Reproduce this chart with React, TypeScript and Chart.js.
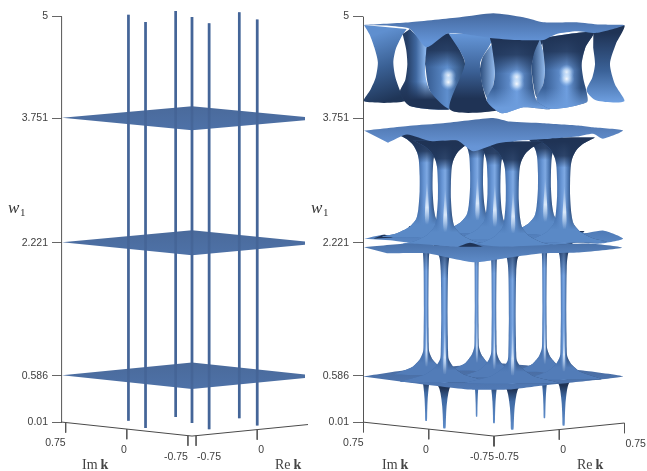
import React, { useEffect, useRef } from "react";
import { Chart, registerables } from "chart.js";

Chart.register(...registerables);

// ---------- data ----------
const yTickValues = [0.01, 0.586, 2.221, 3.751, 5];
const floorTicks = [0.75, 0, -0.75];
const planeLevels = [0.586, 2.221, 3.751];
// exceptional points in the complex k plane
const neckRe = [-0.3, -0.61, 0.225, -0.03, -0.28, 0.555, 0.25];
const neckIm = [0.48, -0.04, 0.425, -0.03, -0.49, -0.025, -0.55];
const lineBottom = 0.01;
const lineTop = 5;

// neck half widths (in Re-Im units) against w: middle band
const midW = [3.55, 3.47, 3.4, 3.31, 3.22, 3.02, 2.83, 2.61, 2.49, 2.39, 2.31, 2.27];
const midHalf = [0.36, 0.22, 0.15, 0.105, 0.085, 0.075, 0.075, 0.09, 0.115, 0.195, 0.345, 0.5];
const midStreakW = [2.95, 2.8, 2.65, 2.52, 2.42];
const midStreakHalf = [0.004, 0.012, 0.02, 0.024, 0.012];
// lower band
const lowW = [2.4, 2.29, 2.2, 2.11, 1.95, 1.38, 1.14, 0.96, 0.86, 0.77, 0.67, 0.625, 0.58];
const lowHalf = [0.2, 0.1, 0.07, 0.04, 0.03, 0.026, 0.028, 0.03, 0.035, 0.07, 0.16, 0.26, 0.36];
const lowScale = [1, 1.4, 0.8, 1, 1.5, 0.9, 1.2];
const lowStreakW = [1.3, 1.1, 0.95, 0.8, 0.68];
const lowStreakHalf = [0.003, 0.006, 0.008, 0.012, 0.01];
// stubs under the lowest sheet
const stubW = [0.55, 0.5, 0.44, 0.36, 0.28, 0.18, 0.1, 0.01];
const stubHalf = [0.06, 0.042, 0.032, 0.024, 0.018, 0.014, 0.012, 0.009];

// sheet outlines as [Re-Im, w]
const sheetLow = [[-1.506, 0.576], [-1.046, 0.65], [0.011, 0.74], [0.264, 0.724], [1.023, 0.65], [1.483, 0.576], [0.563, 0.465], [0.184, 0.416], [-0.276, 0.416], [-0.966, 0.5]];
const sheetMidLow = [[-1.494, 2.27], [-1.276, 2.32], [-1.161, 2.3], [-0.85, 2.33], [-0.01, 2.395], [0.954, 2.32], [1.253, 2.37], [1.483, 2.27], [1.218, 2.21], [0.954, 2.22], [0.069, 2.12], [-0.885, 2.21], [-1.195, 2.25]];
const sheetLowTop = [[-1.494, 2.165], [-0.966, 2.21], [-0.414, 2.17], [-0.276, 2.21], [0.069, 2.17], [1.069, 2.21], [1.471, 2.16], [0.954, 2.1], [0.563, 2.09], [0.184, 2.04], [-0.241, 1.98], [-0.77, 2.09], [-1.23, 2.09]];
const sheetMidTop = [[-1.494, 3.6], [-0.966, 3.66], [-0.586, 3.69], [-0.011, 3.755], [0.184, 3.71], [0.563, 3.69], [0.989, 3.66], [1.138, 3.64], [1.483, 3.6], [1.253, 3.5], [1.138, 3.56], [0.954, 3.525], [0.644, 3.5], [0.333, 3.48], [0.034, 3.44], [-0.241, 3.345], [-0.425, 3.48], [-0.736, 3.47], [-1.0, 3.55], [-1.218, 3.45]];
const bumpLeft = [[-1.39, 2.27], [-1.264, 2.32], [-1.161, 2.285]];
const bumpCentre = [[-0.414, 2.17], [-0.276, 2.22], [-0.126, 2.17]];

// upper band, as [Re-Im, w]
const upLeftNeck = [[-1.494, 4.898], [-1.43, 4.78], [-1.375, 4.62], [-1.335, 4.44], [-1.36, 4.25], [-1.42, 4.1], [-1.494, 3.959], [-1.023, 3.959], [-1.08, 4.09], [-1.135, 4.26], [-1.157, 4.439], [-1.13, 4.6], [-1.06, 4.76], [-1.004, 4.849]];
const upNeckA = [[-1.05, 4.787], [-1.01, 4.6], [-0.996, 4.418], [-1.02, 4.22], [-1.08, 4.07], [-0.966, 3.902], [-0.506, 3.865], [-0.736, 4.09], [-0.785, 4.25], [-0.793, 4.418], [-0.774, 4.623], [-0.966, 4.849]];
const upNeckB = [[-0.774, 4.623], [-0.525, 4.795], [-0.391, 4.58], [-0.333, 4.418], [-0.391, 4.09], [-0.506, 3.865], [-0.736, 4.09], [-0.793, 4.418]];
const upFold = [[-0.525, 4.795], [-0.027, 4.738], [-0.161, 4.418], [-0.084, 3.968], [0.03, 3.845], [-0.506, 3.857], [-0.333, 4.418], [-0.391, 4.58]];
const upLensE = [[-0.027, 4.664], [-0.13, 4.5], [-0.161, 4.336], [-0.125, 4.12], [-0.065, 3.976], [-0.01, 4.15], [0.011, 4.336], [-0.005, 4.52]];
const upNeckE = [[-0.046, 4.738], [0.567, 4.713], [0.47, 4.55], [0.433, 4.377], [0.45, 4.15], [0.49, 3.968], [0.644, 3.865], [0.337, 3.886], [0.088, 3.812], [-0.084, 3.968], [-0.01, 4.15], [0.011, 4.336], [-0.027, 4.664]];
const upLensG = [[0.529, 4.726], [0.46, 4.55], [0.433, 4.377], [0.45, 4.18], [0.49, 4.008], [0.565, 4.17], [0.586, 4.336], [0.57, 4.55]];
const upNeckG = [[0.548, 4.738], [1.142, 4.808], [1.05, 4.62], [1.008, 4.418], [1.03, 4.22], [1.065, 4.07], [1.065, 3.947], [0.663, 3.865], [0.49, 3.976], [0.565, 4.17], [0.586, 4.336], [0.57, 4.55]];
const upRightNeck = [[1.142, 4.808], [1.498, 4.894], [1.4, 4.66], [1.333, 4.418], [1.39, 4.17], [1.498, 3.959], [1.18, 3.968], [1.065, 4.09], [1.13, 4.25], [1.161, 4.418], [1.14, 4.62]];
const upTop = [[-1.494, 4.898], [-0.966, 4.931], [-0.391, 4.992], [-0.008, 5.041], [0.337, 4.992], [0.567, 4.931], [0.95, 4.931], [1.218, 4.902], [1.498, 4.894], [1.18, 4.8], [0.95, 4.82], [0.72, 4.787], [0.567, 4.713], [0.261, 4.713], [-0.046, 4.738], [-0.525, 4.795], [-0.774, 4.623], [-0.966, 4.849], [-1.23, 4.89]];
const upGlow = [[-0.525, 4.234], [0.261, 4.213], [0.835, 4.275]];

// ---------- helpers ----------
type K = number[];
const NAVY = "rgba(31,51,85,";
const project = (re: number, im: number, w: number, k: K, f = 1) => ({ x: re - im, y: w + (k[0] * re + k[1] * im) * f });
const toPts = (a: number[][]) => a.map(([x, y]) => ({ x, y }));

const lin = (u1: number, w1: number, u2: number, w2: number, stops: [number, string][]) => (c: any) => {
  const { x, y } = c.chart.scales;
  const c1 = [x.getPixelForValue(u1), y.getPixelForValue(w1), x.getPixelForValue(u2), y.getPixelForValue(w2)];
  if (!c1.every(Number.isFinite)) return "transparent"; // scales are not laid out yet on the reset pass
  const g = c.chart.ctx.createLinearGradient(c1[0], c1[1], c1[2], c1[3]);
  stops.forEach(([o, col]) => g.addColorStop(o, col));
  return g;
};
const poly = (data: any[], fill: any, tension = 0.25) => ({
  data, backgroundColor: fill, borderWidth: 0, fill: "shape", pointRadius: 0, tension, capBezierPoints: false, clip: false,
});
const stroke = (data: any[], color: string, width: number) => ({
  data, borderColor: color, borderWidth: width, fill: false, pointRadius: 0, tension: 0, clip: false, borderCapStyle: "butt",
});
const bodyStops: [number, string][] = [[0, "#3f6aa6"], [0.35, "#6795d4"], [0.55, "#7ea9e3"], [0.8, "#4a75b0"], [1, "#2b4873"]];

const neckShape = (u0: number, d: number, ws: number[], hs: number[], sc = 1, shift = 0) => {
  const left = ws.map((w, i) => ({ x: u0 + shift - hs[i] * sc, y: w + d }));
  const right = ws.map((w, i) => ({ x: u0 + shift + hs[i] * sc, y: w + d })).reverse();
  return [...left, ...right];
};
const glow = (data: any[], r: number) => ({
  data, showLine: false, pointRadius: r, pointBorderWidth: 0, clip: false,
  pointBackgroundColor: (c: any) => {
    if (!c.raw) return "transparent";
    const { x, y } = c.chart.scales;
    const px = x.getPixelForValue(c.raw.x), py = y.getPixelForValue(c.raw.y);
    if (!Number.isFinite(px) || !Number.isFinite(py)) return "transparent";
    const g = c.chart.ctx.createRadialGradient(px, py, 0, px, py, r);
    g.addColorStop(0, "rgba(255,255,255,0.95)");
    g.addColorStop(0.45, "rgba(215,235,255,0.6)");
    g.addColorStop(1, "rgba(140,185,240,0)");
    return g;
  },
});

const floorSets = (k: K, edge: number) => {
  const sets: any[] = [];
  sets.push(stroke([{ x: -2 * edge, y: 0.01 }, { x: -2 * edge, y: 5 }], "#555555", 1));
  sets.push(stroke([project(-edge, edge, 0.01, k), project(-edge, -edge, 0.01, k), project(edge, -edge, 0.01, k)], "#4a4a4a", 1));
  floorTicks.forEach((t) => {
    const a2 = project(-edge, t, 0.01, k);
    sets.push(stroke([a2, { x: a2.x, y: a2.y - 0.125 }], "#555555", 0.9));
    const b = project(t, -edge, 0.01, k);
    sets.push(stroke([b, { x: b.x, y: b.y - 0.125 }], "#555555", 0.9));
  });
  return sets;
};

// ---------- left panel ----------
const kLeft: K = [0.0995, 0.1075];
const edgeLeft = 0.8;
const leftSets = () => {
  const sets: any[] = floorSets(kLeft, edgeLeft);
  const lines = neckRe.map((re, i) => [project(re, neckIm[i], lineBottom, kLeft), project(re, neckIm[i], lineTop, kLeft)]);
  lines.forEach((l) => sets.push(stroke(l, "#4a6da2", 2.6)));
  planeLevels.forEach((w) => {
    const f = 1 - 0.03 * w;
    const e = edgeLeft;
    sets.push(poly([project(-e, e, w, kLeft, f), project(e, e, w, kLeft, f), project(e, -e, w, kLeft, f), project(-e, -e, w, kLeft, f)],
      lin(0, w + 0.15, 0, w - 0.17, [[0, "#4a6a9b"], [1, "#4e72a8"]]), 0));
  });
  lines.forEach((l) => sets.push(stroke(l, "rgba(62,92,140,0.45)", 2.6)));
  return sets;
};

// ---------- right panel ----------
const kRight: K = [0.107, 0.114];
const edgeRight = 0.75;
const rightSets = () => {
  const sets: any[] = floorSets(kRight, edgeRight);
  const order = [2, 5, 0, 3, 6, 1, 4]; // back to front
  const U = (i: number) => neckRe[i] - neckIm[i];
  const D = (i: number) => kRight[0] * neckRe[i] + kRight[1] * neckIm[i];

  // stubs under the lowest sheet
  order.forEach((i) => {
    const s = lowScale[i];
    sets.push(poly(neckShape(U(i), D(i), stubW, stubHalf, s), lin(0, 0.5 + D(i), 0, 0.01 + D(i), [[0, "#1f3355"], [0.3, "#3f6aa4"], [1, "#5d8bc8"]]), 0.2));
  });
  sets.push(poly(toPts(sheetLow), lin(0, 0.74, 0, 0.42, [[0, "#47699d"], [1, "#5079b5"]]), 0.15));

  // lower necks
  order.forEach((i) => {
    const u = U(i), d = D(i), s = lowScale[i];
    const shape = neckShape(u, d, lowW, lowHalf, s);
    const hw = 0.035 * s;
    sets.push(poly(shape, lin(u - hw, 0, u + hw, 0, bodyStops)));
    sets.push(poly(shape, lin(0, 2.35 + d, 0, 1.85 + d, [[0, NAVY + "1)"], [1, NAVY + "0)"]])));
    sets.push(poly(shape, lin(0, 0.88 + d, 0, 0.72 + d, [[0, "rgba(82,124,184,0)"], [1, "rgba(82,124,184,1)"]])));
    sets.push(poly(neckShape(u, d, lowStreakW, lowStreakHalf, s, 0.004), lin(0, 1.3 + d, 0, 0.66 + d, [[0, "rgba(235,245,255,0)"], [0.65, "rgba(235,245,255,0.8)"], [1, "rgba(235,245,255,0)"]])));
  });

  // bottom sheet of middle band and middle necks
  sets.push(poly(toPts(sheetMidLow), lin(0, 2.4, 0, 2.12, [[0, "#4d78b4"], [1, "#5f8ecb"]]), 0.2));
  sets.push(poly(toPts(bumpLeft), NAVY + "1)", 0.2));
  order.forEach((i) => {
    const u = U(i), d = D(i);
    const shape = neckShape(u, d, midW, midHalf);
    sets.push(poly(shape, lin(u - 0.09, 0, u + 0.09, 0, bodyStops)));
    sets.push(poly(shape, lin(0, 3.5 + d, 0, 3.18 + d, [[0, NAVY + "1)"], [0.55, NAVY + "0.85)"], [1, NAVY + "0)"]])));
    sets.push(poly(shape, lin(0, 2.66 + d, 0, 2.42 + d, [[0, "rgba(90,137,198,0)"], [1, "rgba(90,137,198,1)"]])));
    sets.push(poly(neckShape(u, d, midStreakW, midStreakHalf, 1, 0.01), lin(0, 2.95 + d, 0, 2.42 + d, [[0, "rgba(235,245,255,0)"], [0.6, "rgba(235,245,255,0.85)"], [1, "rgba(235,245,255,0)"]])));
  });

  // sheets
  sets.push(poly(toPts(sheetLowTop), lin(0, 2.21, 0, 1.98, [[0, "#4a72aa"], [1, "#5e8bc8"]]), 0.2));
  sets.push(poly(toPts(bumpCentre), NAVY + "1)", 0.2));
  sets.push(poly(toPts(sheetMidTop), lin(0, 3.755, 0, 3.4, [[0, "#4a6fa6"], [1, "#6795d6"]]), 0.2));

  // upper band
  const tp = (t: number, b: number) => lin(0, t, 0, b, [[0, NAVY + "1)"], [0.45, NAVY + "0.85)"], [1, NAVY + "0)"]]);
  const lit = (t: number, b: number) => lin(0, t, 0, b, [[0, "rgba(108,156,220,0)"], [1, "rgba(108,156,220,1)"]]);
  sets.push(poly(toPts(upLeftNeck), lin(-1.35, 4.787, -1.1, 4.0, [[0, "#5f8fcf"], [0.5, "#3a6094"], [1, "#1f3557"]])));
  sets.push(poly(toPts(upNeckA), lin(-1.0, 0, -0.79, 0, [[0, "#263f66"], [0.5, "#3f679f"], [1, "#88b3ea"]])));
  sets.push(poly(toPts(upNeckA), lin(0, 4.2, 0, 3.98, [[0, NAVY + "0)"], [1, NAVY + "1)"]])));
  sets.push(poly(toPts(upNeckB), lin(-0.79, 0, -0.33, 0, [[0, "#355a8f"], [0.55, "#5f8fce"], [1, "#2a4870"]])));
  sets.push(poly(toPts(upNeckB), tp(4.75, 4.38)));
  sets.push(poly(toPts(upFold), lin(0, 4.8, 0, 3.85, [[0, "#6698da"], [0.5, "#3b6095"], [0.85, "#1f3355"], [1, "#1f3355"]])));
  sets.push(poly(toPts(upLensE), lin(-0.16, 0, 0.011, 0, [[0, "#2c4d7c"], [1, "#93bbee"]])));
  sets.push(poly(toPts(upNeckE), lin(0.01, 0, 0.47, 0, [[0, "#3b6299"], [0.55, "#6f9fe0"], [1, "#2f507f"]])));
  sets.push(poly(toPts(upNeckE), tp(4.72, 4.3)));
  sets.push(poly(toPts(upNeckE), lit(4.12, 3.88)));
  sets.push(poly(toPts(upLensG), lin(0.433, 0, 0.586, 0, [[0, "#2c4d7c"], [1, "#93bbee"]])));
  sets.push(poly(toPts(upNeckG), lin(0.59, 0, 1.0, 0, [[0, "#3b6299"], [0.6, "#6f9fe0"], [1, "#2f507f"]])));
  sets.push(poly(toPts(upNeckG), tp(4.76, 4.34)));
  sets.push(poly(toPts(upNeckG), lit(4.12, 3.88)));
  sets.push(poly(toPts(upRightNeck), lin(0, 4.8, 0, 3.95, [[0, "#1f3355"], [0.55, "#3b6298"], [1, "#6e9fe0"]])));
  const glowPts = upGlow.flatMap(([u, w]) => [{ x: u, y: w + 0.04 }, { x: u, y: w - 0.04 }]);
  sets.push(glow(glowPts, 8));
  sets.push(poly(toPts(upTop), lin(0, 5.04, 0, 4.68, [[0, "#45699f"], [1, "#6495d8"]]), 0.2));
  return sets;
};

// ---------- text drawn on the floor ----------
const textPlugin = (k: K, edge: number, imX: number, reX: number, wX: number) => ({
  id: "floorText",
  afterDraw(chart: any) {
    const { ctx, scales: { x, y } } = chart;
    ctx.save();
    ctx.fillStyle = "#404040";
    ctx.textBaseline = "middle";
    ctx.font = "10.5px 'Liberation Sans'";
    floorTicks.forEach((t) => {
      const a = project(-edge, t, 0.01, k);
      ctx.textAlign = "right";
      ctx.fillText(String(t), x.getPixelForValue(a.x), y.getPixelForValue(a.y) + 21);
      const b = project(t, -edge, 0.01, k);
      if (x.getPixelForValue(b.x) < chart.width - 12) {
        ctx.textAlign = "left";
        ctx.fillText(String(t), x.getPixelForValue(b.x) + 1, y.getPixelForValue(b.y) + 21);
      }
    });
    ctx.textAlign = "left";
    ctx.fillStyle = "#444444";
    const axisLabel = (px: number, main: string) => {
      ctx.font = "14px 'Liberation Serif'";
      ctx.fillText(main, px, 465);
      const wid = ctx.measureText(main).width;
      ctx.font = "bold 14px 'Liberation Serif'";
      ctx.fillText("k", px + wid + 3, 465);
    };
    axisLabel(imX, "Im");
    axisLabel(reX, "Re");
    ctx.fillStyle = "#333333";
    ctx.font = "italic 17px 'Liberation Serif'";
    ctx.fillText("w", wX, 209);
    ctx.font = "11px 'Liberation Serif'";
    ctx.fillText("1", wX + 12, 213);
    ctx.restore();
  },
});

const makeChart = (canvas: HTMLCanvasElement, sets: any[], axisW: number, padRight: number, xMin: number, xMax: number, plugin: any) =>
  new Chart(canvas, {
    type: "line",
    data: { datasets: sets.slice().reverse() },
    plugins: [plugin],
    options: {
      animation: false,
      responsive: false,
      events: [],
      layout: { autoPadding: false, padding: { top: 6.6, bottom: 20.4, left: 0, right: padRight } },
      plugins: { legend: { display: false }, tooltip: { enabled: false }, title: { display: false } },
      scales: {
        x: { type: "linear", display: false, min: xMin, max: xMax },
        y: {
          type: "linear",
          min: 0.01 - 28 / 81.36,
          max: 5 + 10 / 81.36,
          afterBuildTicks: (s: any) => { s.ticks = yTickValues.map((value) => ({ value })); },
          afterFit: (s: any) => { s.width = axisW; s.paddingTop = 0; s.paddingBottom = 0; },
          border: { display: false },
          grid: { drawOnChartArea: false, drawTicks: true, tickLength: 10, color: "#555555", lineWidth: 0.9 },
          ticks: {
            autoSkip: false, padding: 4, color: "#404040", minRotation: 0, maxRotation: 0,
            font: { family: "'Liberation Sans'", size: 10.5 },
            callback: (v: any) => String(v),
          },
        },
      },
    } as any,
  } as any);

export default function App() {
  const leftRef = useRef<HTMLCanvasElement>(null);
  const rightRef = useRef<HTMLCanvasElement>(null);
  useEffect(() => {
    const a = makeChart(leftRef.current!, leftSets(), 62, 3, -130 / 81.5, 113 / 81.5, textPlugin(kLeft, edgeLeft, 82, 275, 8));
    const b = makeChart(rightRef.current!, rightSets(), 55, 15, -131 / 87, 138 / 87, textPlugin(kRight, edgeRight, 74, 269, 3));
    return () => { a.destroy(); b.destroy(); };
  }, []);
  return (
    <div style={{ position: "absolute", left: 0, top: 0, width: 647, height: 471, background: "#fff" }}>
      <canvas ref={leftRef} width={308} height={471} style={{ position: "absolute", left: 0, top: 0, width: 308, height: 471 }} />
      <canvas ref={rightRef} width={339} height={471} style={{ position: "absolute", left: 308, top: 0, width: 339, height: 471 }} />
    </div>
  );
}
